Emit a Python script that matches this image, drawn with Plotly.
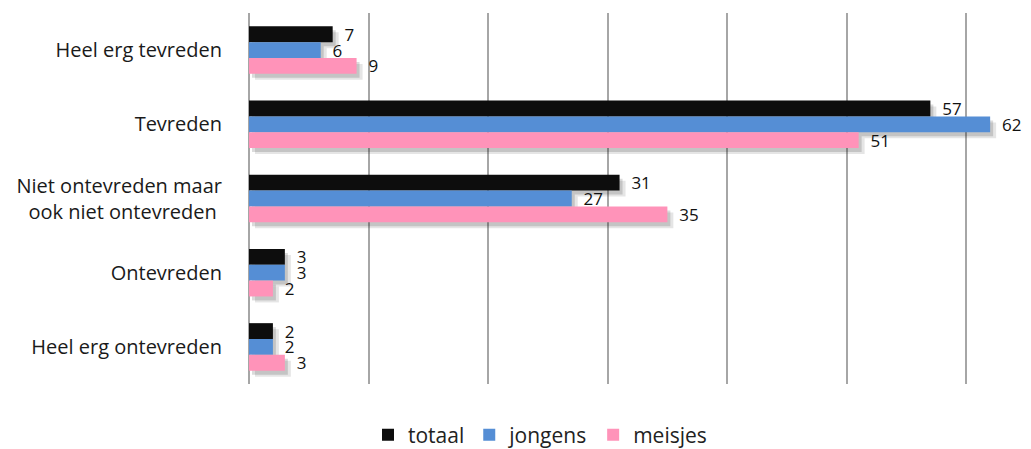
import plotly.graph_objects as go

categories = ["Heel erg tevreden", "Tevreden", "Niet ontevreden maar<br>ook niet ontevreden ",
              "Ontevreden", "Heel erg ontevreden"]
totaal = [7, 57, 31, 3, 2]
jongens = [6, 62, 27, 3, 2]
meisjes = [9, 51, 35, 2, 3]

series = [("totaal", totaal, "#0d0d0d"), ("jongens", jongens, "#558ed5"), ("meisjes", meisjes, "#ff93b9")]

FONT = "Open Sans, Lato, sans-serif"
XMAX = 65
PX_PER_UNIT_X = 777 / XMAX
PX_PER_CAT = 371 / 5
OFF = 8  # page body margin of the browser

fig = go.Figure()

# soft drop shadows (drawn under the bars on shifted overlay axes)
shadow_layers = [("x", "y", "rgba(0,0,0,0.10)"), ("x2", "y2", "rgba(0,0,0,0.14)")]
for xa, ya, col in shadow_layers:
    for name, vals, _ in series:
        fig.add_trace(go.Bar(
            y=categories, x=vals, orientation="h", xaxis=xa, yaxis=ya,
            marker=dict(color=col, line=dict(width=0)), showlegend=False,
            hoverinfo="skip",
        ))

for name, vals, col in series:
    fig.add_trace(go.Bar(
        y=categories, x=vals, name=name, orientation="h", xaxis="x3", yaxis="y3",
        marker=dict(color=col, line=dict(width=0)),
        text=[str(v) for v in vals], texttemplate="\u00a0\u00a0%{text}",
        textposition="outside", cliponaxis=False, constraintext="none",
        textfont=dict(family=FONT, size=17, color="#111111"),
    ))

def shifted(dx_px, dy_px):
    t = dx_px / PX_PER_UNIT_X
    s = dy_px / PX_PER_CAT
    return [0 - t, XMAX - t], [4.5 - s, -0.5 - s]

xr1, yr1 = shifted(6, 6)
xr2, yr2 = shifted(3, 4)

common_x = dict(showticklabels=False, ticks="", showgrid=False, zeroline=False, automargin=False)
common_y = dict(showticklabels=False, ticks="", showgrid=False, automargin=False, type="category")

W, H = 1031, 449
fig.update_layout(
    width=W, height=H,
    barmode="group", bargap=0.36, bargroupgap=0,
    paper_bgcolor="white", plot_bgcolor="white",
    margin=dict(l=249 - OFF, r=5 + OFF, t=13 - OFF, b=H - (384 - OFF)),
    font=dict(family=FONT, size=20, color="#1a1a1a"),
    showlegend=True,
    legend=dict(orientation="h", xref="container", yref="container",
                x=(368 - OFF) / W, xanchor="left", y=1 - (435 - OFF) / H, yanchor="middle",
                font=dict(family=FONT, size=21, color="#222222"), traceorder="normal", itemwidth=30),
    xaxis=dict(range=xr1, **common_x),
    yaxis=dict(range=yr1, **common_y),
    xaxis2=dict(range=xr2, overlaying="x", **common_x),
    yaxis2=dict(range=yr2, overlaying="y", **common_y),
    xaxis3=dict(range=[0, XMAX], dtick=10, overlaying="x", showticklabels=False, showgrid=True,
                gridcolor="#a6a6a6", gridwidth=1.5, zeroline=True, zerolinecolor="#a6a6a6",
                zerolinewidth=1.5, ticks="", automargin=False, layer="below traces"),
    yaxis3=dict(range=[4.5, -0.5], overlaying="y", type="category", ticks="", showgrid=False,
                ticklabelstandoff=26, automargin=False,
                tickfont=dict(family=FONT, size=20, color="#1a1a1a")),
)
fig.write_html("out.html")
